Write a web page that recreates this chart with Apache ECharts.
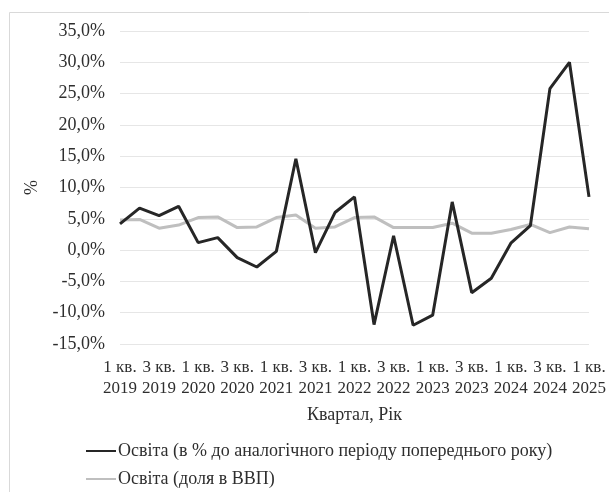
<!DOCTYPE html>
<html>
<head>
<meta charset="utf-8">
<script src="https://cdn.jsdelivr.net/npm/echarts@6/dist/echarts.min.js"></script>
<style>html,body{margin:0;padding:0;background:#fff;}#c{width:609px;height:492px;}</style>
</head>
<body>
<div id="c"></div>
<script>
var categories = [
  "1 кв.\n2019","2 кв.\n2019","3 кв.\n2019","4 кв.\n2019",
  "1 кв.\n2020","2 кв.\n2020","3 кв.\n2020","4 кв.\n2020",
  "1 кв.\n2021","2 кв.\n2021","3 кв.\n2021","4 кв.\n2021",
  "1 кв.\n2022","2 кв.\n2022","3 кв.\n2022","4 кв.\n2022",
  "1 кв.\n2023","2 кв.\n2023","3 кв.\n2023","4 кв.\n2023",
  "1 кв.\n2024","2 кв.\n2024","3 кв.\n2024","4 кв.\n2024",
  "1 кв.\n2025"
];
var seriesNames = ["Освіта (в % до аналогічного періоду попереднього року)", "Освіта (доля в ВВП)"];
var growthValues = [4.2, 6.7, 5.5, 7.0, 1.2, 2.0, -1.2, -2.7, -0.2, 14.6, -0.4, 6.0, 8.5, -11.9, 2.3, -12.0, -10.4, 7.7, -6.8, -4.5, 1.1, 3.9, 25.8, 30.0, 8.5];
var shareValues = [4.8, 4.9, 3.5, 4.0, 5.2, 5.3, 3.6, 3.7, 5.2, 5.6, 3.5, 3.7, 5.2, 5.3, 3.6, 3.6, 3.6, 4.3, 2.7, 2.7, 3.3, 4.1, 2.8, 3.7, 3.4];
var yMin = -15, yMax = 35, yStep = 5;
var xAxisTitle = "Квартал, Рік";
var yAxisTitle = "%";

var font = "Liberation Serif";
var txt = "#2e2e2e";
var chart = echarts.init(document.getElementById('c'));
chart.setOption({
  animation: false,
  backgroundColor: '#fff',
  graphic: [{
    type: 'rect', left: 7, top: 10, silent: true,
    shape: { width: 640, height: 520 },
    style: { fill: 'none', stroke: '#d9d9d9', lineWidth: 1 }
  }],
  grid: { left: 120, right: 16, top: 31, bottom: 148 },
  legend: {
    orient: 'vertical', left: 85, top: 442, padding: 0,
    itemWidth: 30, itemHeight: 14, itemGap: 10,
    itemStyle: { opacity: 0 },
    textStyle: { fontFamily: font, fontSize: 18, lineHeight: 18, color: txt, padding: [0, 0, 0, -3] },
    data: seriesNames
  },
  xAxis: {
    type: 'category', data: categories, boundaryGap: false,
    name: xAxisTitle, nameLocation: 'middle', nameGap: 62,
    nameTextStyle: { fontFamily: font, fontSize: 18, color: txt },
    axisLine: { show: false }, axisTick: { show: false },
    axisLabel: { interval: 1, fontFamily: font, fontSize: 17, color: txt, lineHeight: 21, margin: 13 }
  },
  yAxis: {
    type: 'value', min: yMin, max: yMax, interval: yStep,
    name: yAxisTitle, nameLocation: 'middle', nameGap: 77,
    nameTextStyle: { fontFamily: font, fontSize: 18, color: txt },
    axisLine: { show: false }, axisTick: { show: false },
    axisLabel: { fontFamily: font, fontSize: 18, color: txt, margin: 15,
      formatter: function (v) { return v.toFixed(1).replace('.', ',') + '%'; } },
    splitLine: { lineStyle: { color: '#e6e6e6', width: 1 } }
  },
  series: [
    { name: seriesNames[0], type: 'line', data: growthValues, symbol: 'none', z: 3,
      lineStyle: { color: '#262626', width: 3 }, itemStyle: { color: '#262626' } },
    { name: seriesNames[1], type: 'line', data: shareValues, symbol: 'none', z: 2,
      lineStyle: { color: '#bfbfbf', width: 3 }, itemStyle: { color: '#bfbfbf' } }
  ]
});
</script>
</body>
</html>
